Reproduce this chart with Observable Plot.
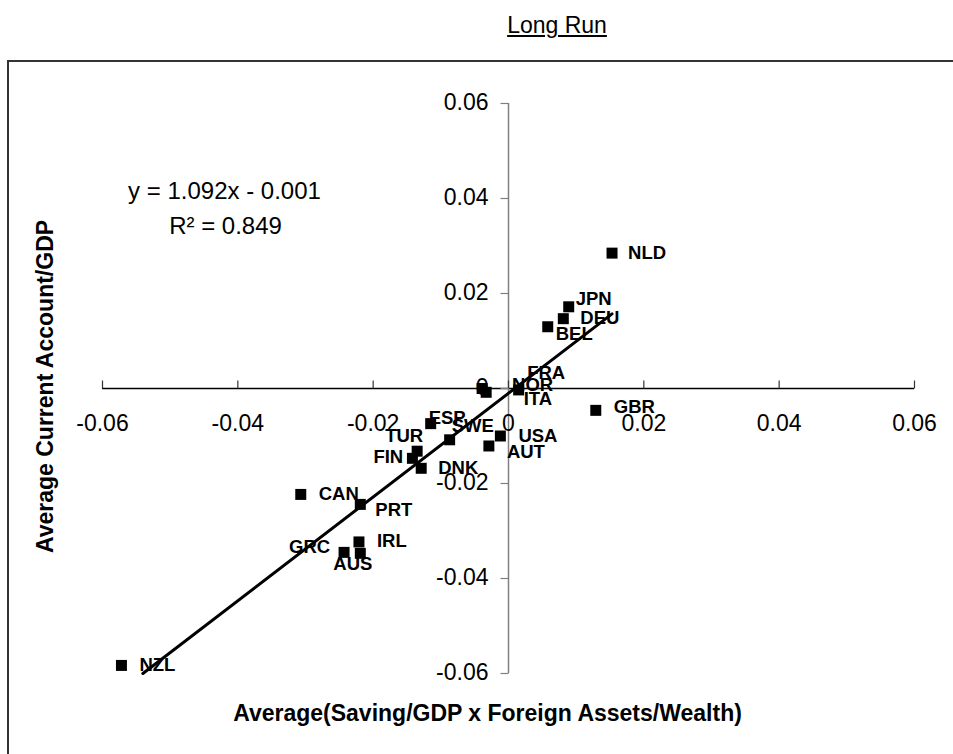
<!DOCTYPE html>
<html><head><meta charset="utf-8">
<script src="https://cdn.jsdelivr.net/npm/d3@7"></script>
<script src="https://cdn.jsdelivr.net/npm/@observablehq/plot@0.6"></script>
<style>
body{margin:0;background:#fff;overflow:hidden;font-family:"Liberation Sans",Arial,sans-serif;}
#title{position:absolute;left:557px;top:12px;transform:translateX(-50%);font-size:23px;text-decoration:underline;white-space:nowrap;color:#000;}
#wrap{position:absolute;left:7px;top:60px;border-left:2px solid #333;border-top:2px solid #333;width:980px;height:720px;}
</style></head><body>
<div id="title">Long Run</div>
<div id="wrap"></div>
<script>
// ---- data ----
const countries = ["NLD","JPN","DEU","BEL","NOR","FRA","ITA","GBR","ESP","SWE","TUR","FIN","DNK","USA","AUT","CAN","PRT","IRL","GRC","AUS","NZL"];
const xValues = [0.0153,0.0089,0.0081,0.0058,-0.0039,-0.0033,0.0015,0.0129,-0.0115,-0.0087,-0.0135,-0.0142,-0.0129,-0.0012,-0.0029,-0.0307,-0.0219,-0.0221,-0.0243,-0.0219,-0.0572];
const yValues = [0.0285,0.0172,0.0147,0.0130,0.0000,-0.0008,-0.0003,-0.0046,-0.0074,-0.0108,-0.0132,-0.0147,-0.0168,-0.0100,-0.0121,-0.0223,-0.0244,-0.0323,-0.0345,-0.0347,-0.0583];
const xTickValues = [-0.06,-0.04,-0.02,0,0.02,0.04,0.06];
const xTickLabels = ["-0.06","-0.04","-0.02","0","0.02","0.04","0.06"];
const yTickValues = [-0.06,-0.04,-0.02,0,0.02,0.04,0.06];
const yTickLabels = ["-0.06","-0.04","-0.02","0","0.02","0.04","0.06"];
const trendSlope = 1.092;
const trendIntercept = -0.001;
const equationText = "y = 1.092x - 0.001";
const r2Text = "R\u00B2 = 0.849";
const xTitle = "Average(Saving/GDP x Foreign Assets/Wealth)";
const yTitle = "Average Current Account/GDP";
// label placement (pixels from point)
const labelDx = [16,7,17,8,30,41,5,18,-2,2,-32,-39,17,18,18,18,15,18,-55,-27,18];
const labelDy = [0,-8,-1,7,-3,-19,9,-3,-6,-14,-15,-1,0,0,6,0,6,-1,-5,11,0];

// ---- chart ----
const font = "Liberation Sans, Arial, sans-serif";
const idx = countries.map((_, i) => i);
const tickUp = {draw(ctx){ ctx.moveTo(0,0); ctx.lineTo(0,-8); }};
const tickLeft = {draw(ctx){ ctx.moveTo(0,0); ctx.lineTo(-8,0); }};
const yMin = d3.min(yTickValues);
const trendX = [Math.max(d3.min(xValues), (yMin - trendIntercept) / trendSlope), d3.max(xValues)];

const labelMarks = idx.map(i => Plot.text([i], {
  x: j => xValues[j], y: j => yValues[j], text: j => countries[j],
  dx: labelDx[i], dy: labelDy[i], textAnchor: "start", lineAnchor: "middle",
  fontSize: 18.5, fontWeight: "bold", fill: "black"
}));

const chart = Plot.plot({
  width: 944, height: 692,
  marginLeft: 93, marginRight: 39, marginTop: 41, marginBottom: 81,
  style: {fontFamily: font, background: "white", overflow: "visible"},
  x: {domain: [-0.06, 0.06], axis: null},
  y: {domain: [-0.06, 0.06], axis: null},
  marks: [
    // axes
    Plot.ruleY([0], {x1: d3.min(xTickValues), x2: d3.max(xTickValues), stroke: "black", strokeWidth: 1.5}),
    Plot.ruleX([0], {y1: d3.min(yTickValues), y2: d3.max(yTickValues), stroke: "#808080", strokeWidth: 1.5}),
    Plot.dot(xTickValues, {x: d => d, y: 0, symbol: tickUp, fill: "none", stroke: "#333", strokeWidth: 1.2}),
    Plot.dot(yTickValues, {x: 0, y: d => d, symbol: tickLeft, fill: "none", stroke: "#808080", strokeWidth: 1.2}),
    Plot.text(xTickValues, {x: d => d, y: 0, text: (d, i) => xTickLabels[i], dy: 35, textAnchor: "middle", lineAnchor: "middle", fontSize: 23, fill: "black"}),
    Plot.text(yTickValues, {x: 0, y: d => d, text: (d, i) => yTickLabels[i], dx: -20, dy: -1, textAnchor: "end", lineAnchor: "middle", fontSize: 23, fill: "black"}),
    // titles
    Plot.text([xTitle], {frameAnchor: "bottom", dx: -21, dy: 40, textAnchor: "middle", lineAnchor: "middle", fontSize: 23, fontWeight: "bold", fill: "black"}),
    Plot.text([yTitle], {frameAnchor: "left", dx: -57, dy: -2, rotate: -90, textAnchor: "middle", lineAnchor: "middle", fontSize: 23, fontWeight: "bold", fill: "black"}),
    // equation
    Plot.text([equationText], {frameAnchor: "top-left", dx: 122, dy: 88, textAnchor: "middle", lineAnchor: "middle", fontSize: 24, fill: "black"}),
    Plot.text([r2Text], {frameAnchor: "top-left", dx: 123, dy: 123, textAnchor: "middle", lineAnchor: "middle", fontSize: 24, fill: "black"}),
    // labels, trend, points
    ...labelMarks,
    Plot.line(trendX, {x: d => d, y: d => trendSlope * d + trendIntercept, stroke: "black", strokeWidth: 3}),
    Plot.dot(idx, {x: i => xValues[i], y: i => yValues[i], symbol: "square", r: 6.2, fill: "black", stroke: "none"})
  ]
});
document.getElementById("wrap").appendChild(chart);
</script>
</body></html>
